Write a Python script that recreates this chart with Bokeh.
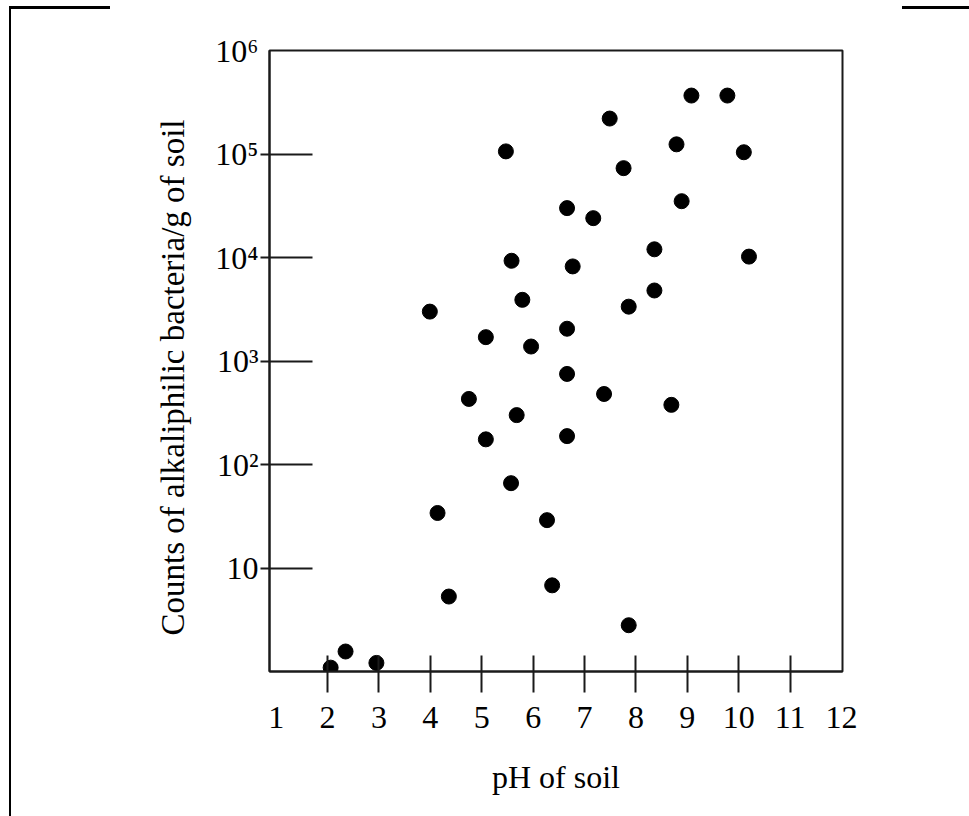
from bokeh.plotting import figure
from bokeh.models import Range1d, FixedTicker, InlineStyleSheet
from bokeh.embed import file_html
from bokeh.resources import INLINE

# --- data ---
ph = [2.06, 2.35, 2.95, 3.99, 4.14, 4.36, 4.75, 5.08, 5.08, 5.47, 5.58, 5.57, 5.68,
      5.79, 5.96, 6.27, 6.37, 6.66, 6.66, 6.66, 6.66, 6.77, 7.17, 7.38, 7.49, 7.76,
      7.86, 7.86, 8.36, 8.36, 8.69, 8.79, 8.89, 9.08, 9.78, 10.10, 10.20]
counts = [1.09, 1.56, 1.21, 3000, 34, 5.3, 430, 1700, 175, 106000, 9300, 66, 300,
          3900, 1380, 29, 6.8, 30000, 2050, 750, 188, 8200, 24000, 480, 220000, 73000,
          3350, 2.8, 12000, 4800, 377, 124000, 35000, 367000, 367000, 104000, 10200]

x_label_ticks = [1, 2, 3, 4, 5, 6, 7, 8, 9, 10, 11, 12]
x_mark_ticks = [2, 3, 4, 5, 6, 7, 8, 9, 10, 11]
y_label_ticks = [10, 100, 1000, 10000, 100000, 1000000]
y_mark_ticks = [10, 100, 1000, 10000, 100000]
y_tick_text = ["10", "10\u00b2", "10\u00b3", "10\u2074", "10\u2075", "10\u2076"]

x_title = "pH of soil"
y_title = "Counts of alkaliphilic bacteria/g of soil"

FONT = "Liberation Serif"
INK = "#1a1a1a"

p = figure(width=960, height=808, output_backend="svg", toolbar_location=None,
           y_axis_type="log",
           x_range=Range1d(0.87, 12.02), y_range=Range1d(1, 1e6),
           min_border_left=269, min_border_right=118,
           min_border_top=50, min_border_bottom=137)

p.grid.visible = False
p.outline_line_color = INK
p.outline_line_width = 2
p.background_fill_color = "white"
p.border_fill_color = "white"

# x axis
xa = p.xaxis[0]
xa.ticker = FixedTicker(ticks=x_label_ticks, minor_ticks=x_mark_ticks)
xa.major_tick_line_color = None
xa.major_tick_in = 0
xa.major_tick_out = 0
xa.minor_tick_line_color = INK
xa.minor_tick_line_width = 2
xa.minor_tick_in = 16
xa.minor_tick_out = 21
xa.axis_line_color = INK
xa.axis_line_width = 2
xa.major_label_standoff = 14
xa.major_label_text_font = FONT
xa.major_label_text_font_size = "32px"
xa.major_label_text_color = "black"
xa.axis_label = x_title
xa.axis_label_text_font = FONT
xa.axis_label_text_font_style = "normal"
xa.axis_label_text_font_size = "32px"
xa.axis_label_text_color = "black"
xa.axis_label_standoff = 28

# y axis
ya = p.yaxis[0]
ya.ticker = FixedTicker(ticks=y_label_ticks, minor_ticks=y_mark_ticks)
ya.major_label_overrides = {t: s for t, s in zip(y_label_ticks, y_tick_text)}
ya.major_tick_line_color = None
ya.major_tick_in = 0
ya.major_tick_out = 0
ya.minor_tick_line_color = INK
ya.minor_tick_line_width = 2
ya.minor_tick_in = 43
ya.minor_tick_out = 9
ya.axis_line_color = INK
ya.axis_line_width = 2
ya.major_label_standoff = 2
ya.major_label_text_font = FONT
ya.major_label_text_font_size = "32px"
ya.major_label_text_color = "black"
# trailing no-break spaces push the visible title slightly downward, as in the scan
ya.axis_label = y_title + "\u00a0" * 4
ya.axis_label_text_font = FONT
ya.axis_label_text_font_style = "normal"
ya.axis_label_text_font_size = "33px"
ya.axis_label_text_color = "black"
ya.axis_label_standoff = 21

p.scatter(ph, counts, size=15, fill_color="black", line_color="black")

# fragments of the scanned page border (pure decoration, CSS only)
p.stylesheets = [InlineStyleSheet(css="""
:host { position: relative; }
:host::before { content: ""; position: absolute; left: 9px; top: 6px;
  width: 99px; height: 820px; border-top: 3px solid #000; border-left: 2px solid #000;
  pointer-events: none; z-index: 10; }
:host::after { content: ""; position: absolute; left: 902px; top: 6px;
  width: 80px; height: 0px; border-top: 3px solid #000;
  pointer-events: none; z-index: 10; }
""")]

open("out.html", "w").write(file_html(p, INLINE))
